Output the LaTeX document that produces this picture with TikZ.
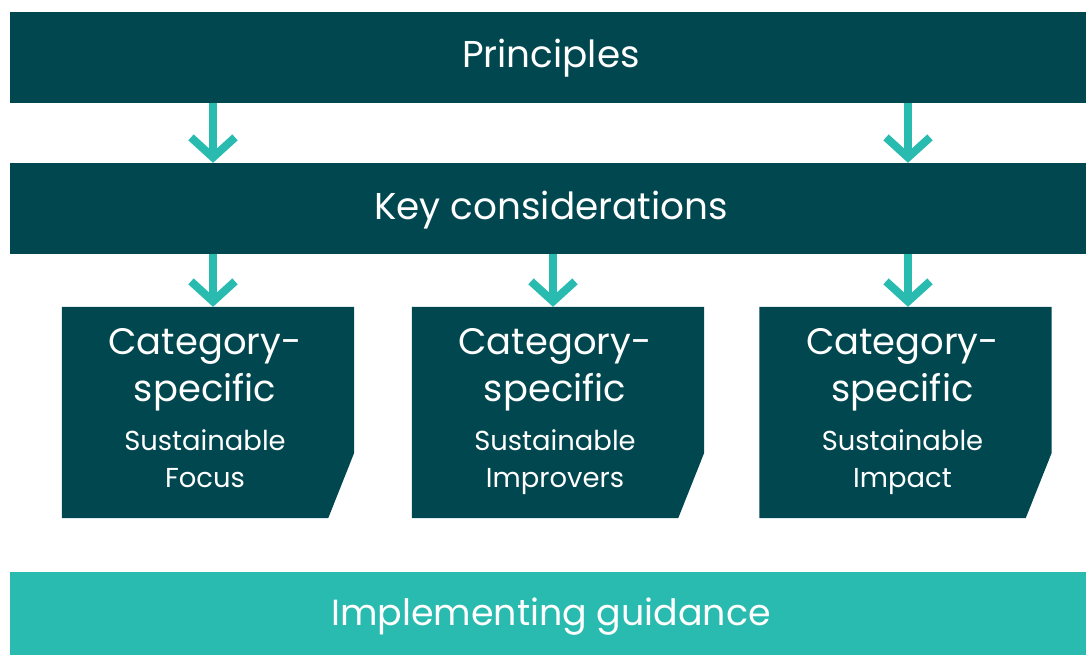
\documentclass[tikz,border=0pt]{standalone}
\usepackage{fontspec}
\setmainfont{Poppins}
\usetikzlibrary{arrows.meta,calc}
\definecolor{darkteal}{RGB}{0,71,79}
\definecolor{lightteal}{RGB}{41,187,175}
\tikzset{
  bar/.style={fill=darkteal, draw=none, minimum width=1076bp, minimum height=91bp, inner sep=0pt, text=white},
  lightbar/.style={bar, fill=lightteal, minimum height=83bp},
  catshape/.style={fill=darkteal, draw=none},
  cathold/.style={draw=none, minimum width=292bp, minimum height=211bp, inner sep=0pt},
  headtxt/.style={text=white, font=\fontsize{37.5}{40}\selectfont, inner sep=0pt, anchor=base},
  bigtxt/.style={text=white, font=\fontsize{37}{40}\selectfont, inner sep=0pt, anchor=base},
  smalltxt/.style={text=white, font=\fontsize{27.5}{30}\selectfont, inner sep=0pt, anchor=base},
  flowarrow/.style={draw=lightteal, line width=8bp, -{Straight Barb[length=20bp, width=44bp]}},
}
\begin{document}
\begin{tikzpicture}[x=1bp, y=-1bp]
\useasboundingbox (0,0) rectangle (1086,655);
\node[bar] (prin) at (548,57.5) {};
\node[headtxt] (print) at (551,68) {Principles};
\node[bar] (key) at (548,208.5) {};
\node[headtxt] (keyt) at (551,219) {Key considerations};
\node[lightbar] (impl) at (548,613.5) {};
\node[headtxt, font=\fontsize{36.5}{40}\selectfont] (implt) at (551,625) {Implementing guidance};

\foreach \cx/\nm/\a/\b in {208/c1/Sustainable/Focus, 558/c2/Sustainable/Improvers, 905.5/c3/Sustainable/Impact}{
  \node[cathold] (\nm) at (\cx,412.5) {};
  \fill[catshape] (\nm.north west) -- (\nm.north east) -- ($(\nm.north east)+(0,146)$) -- ($(\nm.south east)+(-26,0)$) -- (\nm.south west) -- cycle;
  \node[bigtxt] (\nm a) at ($(\nm.north)+(-3,48)$) {Category-};
  \node[bigtxt] (\nm b) at ($(\nm.north)+(-3,95)$) {specific};
  \node[smalltxt] (\nm c) at ($(\nm.north)+(-3,144)$) {\a};
  \node[smalltxt] (\nm d) at ($(\nm.north)+(-3,181)$) {\b};
}

\coordinate (a1) at (213,0);
\coordinate (a2) at (908,0);
\coordinate (a3) at (553,0);
\draw[flowarrow] (prin.south -| a1) -- (key.north -| a1);
\draw[flowarrow] (prin.south -| a2) -- (key.north -| a2);
\draw[flowarrow] (key.south -| a1) -- (c1.north -| a1);
\draw[flowarrow] (key.south -| a3) -- (c2.north -| a3);
\draw[flowarrow] (key.south -| a2) -- (c3.north -| a2);
\end{tikzpicture}
\end{document}
